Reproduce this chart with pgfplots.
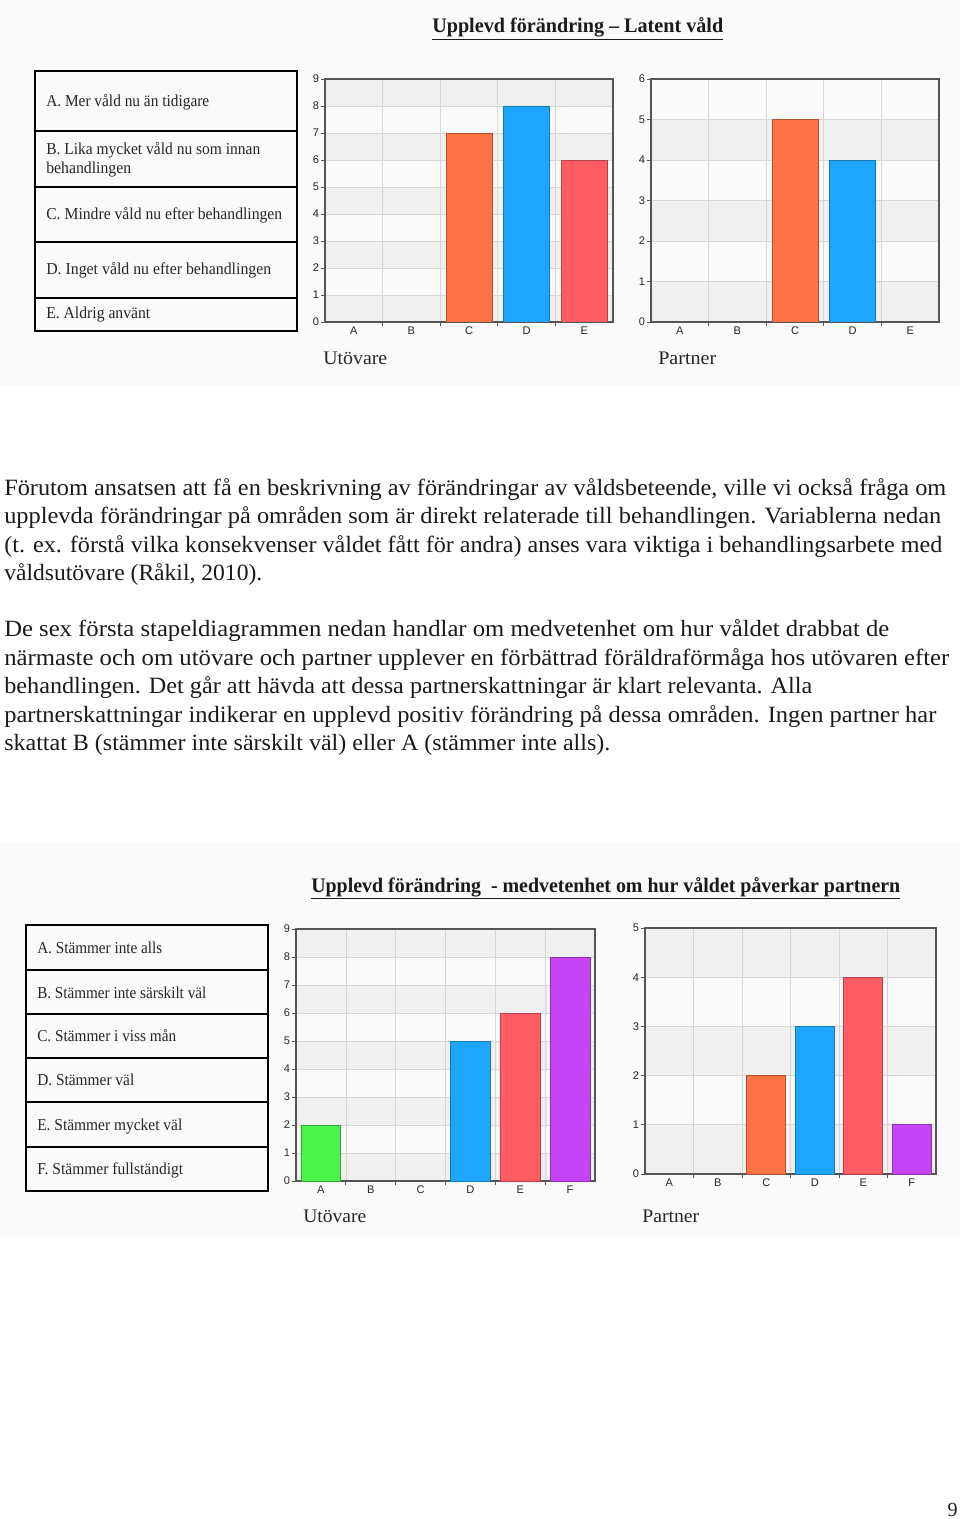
\documentclass[border=0pt]{standalone}
\usepackage{pgfplots}
\pgfplotsset{compat=1.18}
\usepackage{graphicx}
\usepackage{fontspec}
\setmainfont{Liberation Serif}
\newfontfamily\sansf{Liberation Sans}

\definecolor{bgc}{HTML}{FAFAFA}
\definecolor{bandc}{HTML}{F0F0F0}
\definecolor{gridc}{HTML}{D6D6D6}
\definecolor{axisc}{HTML}{555555}
\definecolor{txtc}{HTML}{1A1A1A}
\definecolor{cO}{HTML}{FF7246}\definecolor{cOe}{HTML}{B5502F}
\definecolor{cB}{HTML}{1EA6FC}\definecolor{cBe}{HTML}{1678B5}
\definecolor{cR}{HTML}{FF5C64}\definecolor{cRe}{HTML}{B84248}
\definecolor{cG}{HTML}{4CF54C}\definecolor{cGe}{HTML}{34A834}
\definecolor{cP}{HTML}{C544F5}\definecolor{cPe}{HTML}{8E30B0}

\pgfdeclarelayer{pagebg}
\pgfplotsset{
  layers/mylayers/.define layer set={pagebg,axis background,axis grid,axis ticks,axis lines,axis tick labels,pre main,main,axis descriptions,axis foreground}{},
  chart/.style={
    scale only axis, anchor=south west, set layers=mylayers,
    ymin=0, xmin=-0.5,
    axis line style={draw=axisc, line width=0.9pt},
    tick align=outside, tick pos=left,
    major tick length=3pt,
    tick style={draw=axisc, line width=0.6pt},
    ymajorgrids, xmajorgrids,
    grid style={draw=gridc, line width=0.5pt},
    xticklabels={},
    extra x tick style={grid=none, major tick length=0pt},
    ticklabel style={font=\sansf\fontsize{8.3}{9}\selectfont, text=black!85},
    yticklabel style={inner xsep=1.2pt},
    xticklabel style={inner ysep=3.5pt},
    /pgf/number format/assume math mode=true,
  },
  mybar/.style={ybar, bar width=0.8, bar shift=0pt, line width=0.6pt},
}

\newcommand{\rb}[2]{\resizebox{#1}{\height}{#2}}

\begin{document}
\begin{tikzpicture}
% ---- Axis 1: Utövare ----
\begin{axis}[chart, at={(243.75pt,-241.5pt)}, width=216pt, height=182.25pt,
  xmax=4.5, ymax=9, ytick={0,1,2,3,4,5,6,7,8,9},
  xtick={0.5,1.5,2.5,3.5}, extra x ticks={0,1,2,3,4}, extra x tick labels={A,B,C,D,E}]
\begin{pgfonlayer}{axis background}
\fill[bandc] (axis cs:-0.5,0) rectangle (axis cs:4.5,1);
\fill[bandc] (axis cs:-0.5,2) rectangle (axis cs:4.5,3);
\fill[bandc] (axis cs:-0.5,4) rectangle (axis cs:4.5,5);
\fill[bandc] (axis cs:-0.5,6) rectangle (axis cs:4.5,7);
\fill[bandc] (axis cs:-0.5,8) rectangle (axis cs:4.5,9);
\end{pgfonlayer}
\addplot[mybar, fill=cO, draw=cOe] coordinates {(2,7)};
\addplot[mybar, fill=cB, draw=cBe] coordinates {(3,8)};
\addplot[mybar, fill=cR, draw=cRe] coordinates {(4,6)};
\end{axis}

% ---- Axis 1: Partner ----
\begin{axis}[chart, at={(488.25pt,-241.5pt)}, width=216pt, height=182.25pt,
  xmax=4.5, ymax=6, ytick={0,1,2,3,4,5,6},
  xtick={0.5,1.5,2.5,3.5}, extra x ticks={0,1,2,3,4}, extra x tick labels={A,B,C,D,E}]
\begin{pgfonlayer}{axis background}
\fill[bandc] (axis cs:-0.5,0) rectangle (axis cs:4.5,1);
\fill[bandc] (axis cs:-0.5,2) rectangle (axis cs:4.5,3);
\fill[bandc] (axis cs:-0.5,4) rectangle (axis cs:4.5,5);
\end{pgfonlayer}
\addplot[mybar, fill=cO, draw=cOe] coordinates {(2,5)};
\addplot[mybar, fill=cB, draw=cBe] coordinates {(3,4)};
\end{axis}

% ---- Axis 2: Utövare ----
\begin{axis}[chart, at={(222pt,-885.75pt)}, width=224.25pt, height=189pt,
  xmax=5.5, ymax=9, ytick={0,1,2,3,4,5,6,7,8,9},
  xtick={0.5,1.5,2.5,3.5,4.5}, extra x ticks={0,1,2,3,4,5}, extra x tick labels={A,B,C,D,E,F}]
\begin{pgfonlayer}{axis background}
\fill[bandc] (axis cs:-0.5,0) rectangle (axis cs:5.5,1);
\fill[bandc] (axis cs:-0.5,2) rectangle (axis cs:5.5,3);
\fill[bandc] (axis cs:-0.5,4) rectangle (axis cs:5.5,5);
\fill[bandc] (axis cs:-0.5,6) rectangle (axis cs:5.5,7);
\fill[bandc] (axis cs:-0.5,8) rectangle (axis cs:5.5,9);
\end{pgfonlayer}
\addplot[mybar, fill=cG, draw=cGe] coordinates {(0,2)};
\addplot[mybar, fill=cB, draw=cBe] coordinates {(3,5)};
\addplot[mybar, fill=cR, draw=cRe] coordinates {(4,6)};
\addplot[mybar, fill=cP, draw=cPe] coordinates {(5,8)};
\end{axis}

% ---- Axis 2: Partner ----
\begin{axis}[chart, at={(483.75pt,-880.5pt)}, width=218.25pt, height=184.5pt,
  xmax=5.5, ymax=5, ytick={0,1,2,3,4,5},
  xtick={0.5,1.5,2.5,3.5,4.5}, extra x ticks={0,1,2,3,4,5}, extra x tick labels={A,B,C,D,E,F}]
\begin{pgfonlayer}{axis background}
\fill[bandc] (axis cs:-0.5,0) rectangle (axis cs:5.5,1);
\fill[bandc] (axis cs:-0.5,2) rectangle (axis cs:5.5,3);
\fill[bandc] (axis cs:-0.5,4) rectangle (axis cs:5.5,5);
\end{pgfonlayer}
\addplot[mybar, fill=cO, draw=cOe] coordinates {(2,2)};
\addplot[mybar, fill=cB, draw=cBe] coordinates {(3,3)};
\addplot[mybar, fill=cR, draw=cRe] coordinates {(4,4)};
\addplot[mybar, fill=cP, draw=cPe] coordinates {(5,1)};
\end{axis}

\begin{scope}[x=0.75pt,y=-0.75pt]
\useasboundingbox (0,0) rectangle (960,1519);
\begin{pgfonlayer}{pagebg}
\fill[bgc] (0,0) rectangle (960,386);
\fill[bgc] (0,842) rectangle (960,1236);
\end{pgfonlayer}

% ---------- Chart 1 ----------
\node[anchor=base west, inner sep=0pt, font=\bfseries\fontsize{15.5}{18}\selectfont, text=txtc] at (432,33)
  {\rb{218.25pt}{\underline{Upplevd förändring – Latent våld}}};

\draw[line width=1.5pt] (35,71) rectangle (297,331);
\foreach \yy in {131,187,242,298} \draw[line width=1.5pt] (35,\yy) -- (297,\yy);
\begin{scope}[every node/.style={anchor=base west, inner sep=0pt, font=\fontsize{12.5}{14}\selectfont, text=black!85}]
\node at (46,107) {\rb{122.25pt}{A. Mer våld nu än tidigare}};
\node at (46,155) {\rb{160.5pt}{B. Lika mycket våld nu som innan}};
\node at (46,174) {\rb{63.75pt}{behandlingen}};
\node at (46,220) {\rb{177pt}{C. Mindre våld nu efter behandlingen}};
\node at (46,275) {\rb{168.75pt}{D. Inget våld nu efter behandlingen}};
\node at (46,319) {\rb{78pt}{E. Aldrig använt}};
\end{scope}

\begin{scope}[every node/.style={anchor=base west, inner sep=0pt, font=\fontsize{14.4}{16}\selectfont, text=black!85}]
\node at (323,364) {\rb{48pt}{Utövare}};
\node at (658,364) {\rb{43.5pt}{Partner}};
\node at (303,1222) {\rb{47.25pt}{Utövare}};
\node at (642,1222) {\rb{42.75pt}{Partner}};
\end{scope}

% ---------- Body text ----------
\begin{scope}[every node/.style={anchor=base west, inner sep=0pt, font=\fontsize{17.5}{20}\selectfont, text=txtc}]
\node at (4,495) {\rb{706.5pt}{Förutom ansatsen att få en beskrivning av förändringar av våldsbeteende, ville vi också fråga om}};
\node at (4,523.5) {\rb{702.75pt}{upplevda förändringar på områden som är direkt relaterade till behandlingen. Variablerna nedan}};
\node at (4,552) {\rb{703.5pt}{(t. ex. förstå vilka konsekvenser våldet fått för andra) anses vara viktiga i behandlingsarbete med}};
\node at (4,580.5) {\rb{193.5pt}{våldsutövare (Råkil, 2010).}};
\node at (4,636.5) {\rb{663.75pt}{De sex första stapeldiagrammen nedan handlar om medvetenhet om hur våldet drabbat de}};
\node at (4,665) {\rb{708.75pt}{närmaste och om utövare och partner upplever en förbättrad föräldraförmåga hos utövaren efter}};
\node at (4,693.5) {\rb{606pt}{behandlingen. Det går att hävda att dessa partnerskattningar är klart relevanta. Alla}};
\node at (4,722) {\rb{699pt}{partnerskattningar indikerar en upplevd positiv förändring på dessa områden. Ingen partner har}};
\node at (4,750.5) {\rb{454.5pt}{skattat B (stämmer inte särskilt väl) eller A (stämmer inte alls).}};
\end{scope}

% ---------- Chart 2 ----------
\node[anchor=base west, inner sep=0pt, font=\bfseries\fontsize{15.5}{18}\selectfont, text=txtc] at (311,892)
  {\rb{441.75pt}{\underline{Upplevd förändring\ \ - medvetenhet om hur våldet påverkar partnern}}};

\draw[line width=1.5pt] (26,925) rectangle (268,1191);
\foreach \yy in {970,1014,1058,1102,1147} \draw[line width=1.5pt] (26,\yy) -- (268,\yy);
\begin{scope}[every node/.style={anchor=base west, inner sep=0pt, font=\fontsize{12.5}{14}\selectfont, text=black!85}]
\node at (37,953) {\rb{93.75pt}{A. Stämmer inte alls}};
\node at (37,998) {\rb{126.75pt}{B. Stämmer inte särskilt väl}};
\node at (37,1041) {\rb{104.25pt}{C. Stämmer i viss mån}};
\node at (37,1085) {\rb{72.75pt}{D. Stämmer väl}};
\node at (37,1130) {\rb{108.75pt}{E. Stämmer mycket väl}};
\node at (37,1174) {\rb{109.5pt}{F. Stämmer fullständigt}};
\end{scope}

\node[anchor=base east, inner sep=0pt, font=\fontsize{15}{17}\selectfont, text=txtc] at (958,1516) {9};
\end{scope}
\end{tikzpicture}
\end{document}
